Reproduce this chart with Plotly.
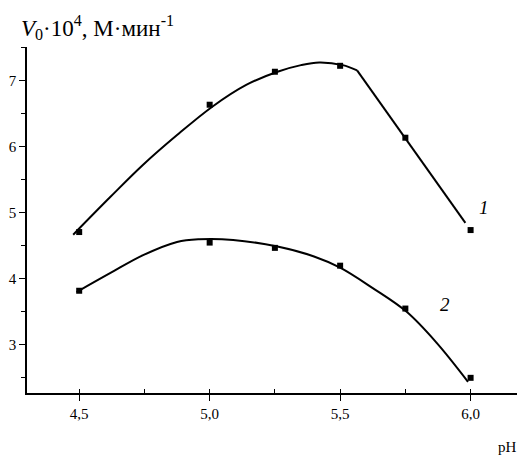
import plotly.graph_objects as go

# measured points
ph = [4.5, 5.0, 5.25, 5.5, 5.75, 6.0]
v1 = [4.71, 6.64, 7.14, 7.23, 6.14, 4.74]
v2 = [3.82, 4.55, 4.47, 4.20, 3.55, 2.50]

# fitted curves
c1_x = [4.477, 4.619, 4.745, 4.875, 5.01, 5.14, 5.26, 5.35, 5.42, 5.51, 5.565, 5.98]
c1_y = [4.67, 5.24, 5.73, 6.18, 6.61, 6.94, 7.14, 7.24, 7.28, 7.24, 7.16, 4.85]
c2_x = [4.49, 4.62, 4.745, 4.875, 4.96, 5.09, 5.26, 5.40, 5.50, 5.625, 5.755, 5.87, 5.99]
c2_y = [3.80, 4.09, 4.36, 4.56, 4.60, 4.59, 4.49, 4.34, 4.17, 3.86, 3.50, 3.03, 2.44]

x_ticks = [4.5, 5.0, 5.5, 6.0]
x_labels = ["4,5", "5,0", "5,5", "6,0"]
y_ticks = [3, 4, 5, 6, 7]

serif = "Liberation Serif, Times New Roman, serif"

fig = go.Figure()
fig.add_trace(go.Scatter(x=c1_x[:-1], y=c1_y[:-1], mode="lines", line=dict(color="black", width=2, shape="spline", smoothing=1.0), hoverinfo="skip"))
fig.add_trace(go.Scatter(x=c1_x[-2:], y=c1_y[-2:], mode="lines", line=dict(color="black", width=2), hoverinfo="skip"))
fig.add_trace(go.Scatter(x=c2_x, y=c2_y, mode="lines", line=dict(color="black", width=2, shape="spline", smoothing=1.0), hoverinfo="skip"))
fig.add_trace(go.Scatter(x=ph, y=v1, mode="markers", marker=dict(symbol="square", size=6, color="black")))
fig.add_trace(go.Scatter(x=ph, y=v2, mode="markers", marker=dict(symbol="square", size=6, color="black")))

# page body has an 8px margin, so the figure is shifted by 8px
fig.update_layout(
    width=517, height=450,
    margin=dict(l=19, r=3, t=39, b=65, autoexpand=False),
    paper_bgcolor="white", plot_bgcolor="white",
    showlegend=False,
    separators=", ",
    font=dict(family=serif, color="black", size=14),
)
fig.update_xaxes(
    range=[4.30, 6.197], showgrid=False, zeroline=False, automargin=False,
    showline=True, linecolor="black", linewidth=1.5,
    tickvals=x_ticks, ticktext=x_labels, ticks="outside", ticklen=6, tickwidth=1.2, tickcolor="black",
    minor=dict(dtick=0.25, tick0=4.25, ticks="inside", ticklen=4, tickcolor="black", tickwidth=1),
    tickfont=dict(family=serif, size=15, color="black"),
)
fig.update_yaxes(
    range=[2.27, 7.515], showgrid=False, zeroline=False, automargin=False,
    showline=True, linecolor="black", linewidth=1.5,
    tickvals=y_ticks, ticks="outside", ticklen=6, tickwidth=1.2, tickcolor="black",
    minor=dict(dtick=0.5, tick0=2.5, ticks="outside", ticklen=4, tickcolor="black", tickwidth=1),
    tickfont=dict(family=serif, size=15, color="black"),
)
fig.add_annotation(xref="paper", yref="paper", x=-0.016, y=1.055, xanchor="left", yanchor="middle",
                   text="<i>V</i><sub>0</sub>·10<sup>4</sup>, М·мин<sup>-1</sup>", showarrow=False,
                   font=dict(family=serif, size=23, color="black"))
fig.add_annotation(xref="paper", yref="paper", x=0.993, y=-0.156, xanchor="right", yanchor="middle",
                   text="pH", showarrow=False, font=dict(family=serif, size=15, color="black"))
fig.add_annotation(x=6.05, y=5.08, text="<i>1</i>", showarrow=False, font=dict(family=serif, size=19, color="black"))
fig.add_annotation(x=5.90, y=3.61, text="<i>2</i>", showarrow=False, font=dict(family=serif, size=19, color="black"))

fig.write_html("out.html")
